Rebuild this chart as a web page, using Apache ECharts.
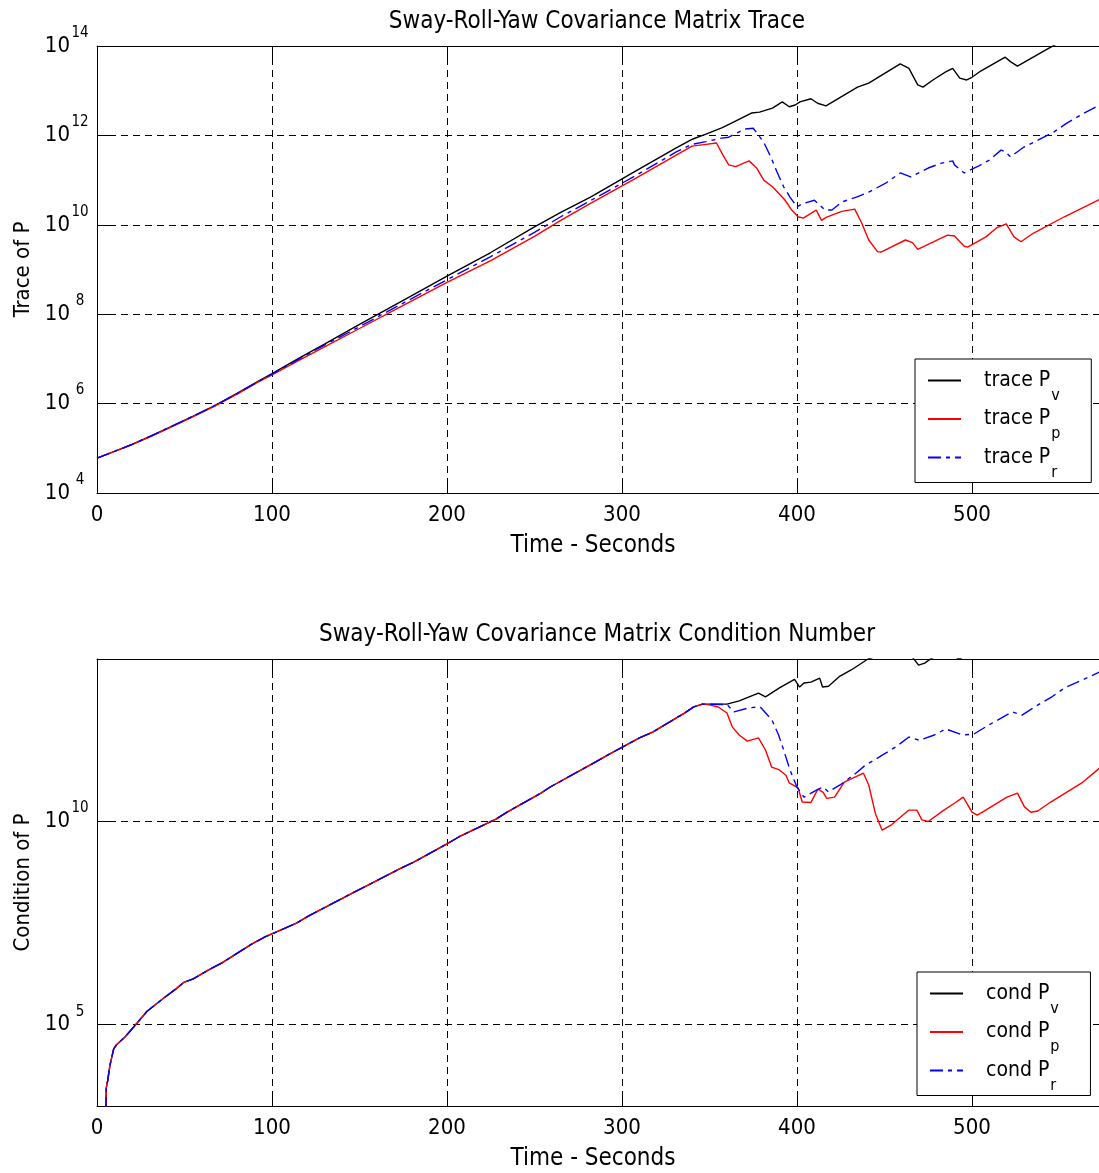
<!DOCTYPE html>
<html>
<head>
<meta charset="utf-8">
<title>Sway-Roll-Yaw Covariance Matrix</title>
<script src="https://cdn.jsdelivr.net/npm/echarts@6/dist/echarts.min.js"></script>
<style>
  html, body { margin: 0; padding: 0; background: #fff; }
  #chart { width: 1099px; height: 1173px; }
</style>
</head>
<body>
<div id="chart"></div>
<script>
// Each point is [time in seconds, log10 of the quantity].

// Trace of the sway-roll-yaw covariance matrices
const traceV = [[0,4.78],[10,4.93],[20,5.09],[30,5.26],[42,5.48],[55,5.72],[67,5.95],[80,6.23],[92,6.5],[100,6.67],[117,7.05],[130,7.33],[150,7.77],[175,8.31],[200,8.85],[225,9.38],[249,9.93],[265,10.28],[282,10.62],[306,11.16],[331,11.72],[340.5,11.92],[348,12.03],[357,12.17],[364,12.3],[374,12.5],[378.6,12.52],[386,12.61],[391.6,12.75],[395.6,12.64],[399,12.68],[401.7,12.75],[408,12.82],[411.8,12.72],[416.6,12.66],[434.6,13.08],[441,13.17],[459,13.6],[464,13.5],[469,13.13],[472,13.08],[477.7,13.24],[485,13.42],[489,13.5],[493,13.28],[497,13.24],[500,13.3],[505,13.44],[519,13.75],[522,13.65],[526,13.55],[543,13.93],[558,14.25],[573,14.55]];
const traceP = [[0,4.78],[10,4.93],[20,5.08],[30,5.25],[42,5.47],[55,5.71],[67,5.94],[80,6.21],[92,6.48],[100,6.64],[117,7.0],[130,7.27],[150,7.68],[175,8.2],[200,8.71],[225,9.2],[250,9.74],[265,10.1],[282,10.48],[306,11.0],[331,11.56],[340,11.76],[348,11.8],[354,11.83],[357.7,11.56],[361,11.34],[365,11.3],[372.6,11.43],[377,11.27],[381,11.0],[386,10.85],[393,10.56],[397,10.33],[400.6,10.18],[403.6,10.15],[411,10.33],[414,10.1],[417,10.17],[425.6,10.3],[433,10.35],[437,10.04],[441,9.66],[446,9.4],[448,9.39],[462,9.66],[466,9.6],[469,9.45],[486,9.77],[490,9.75],[495.6,9.52],[497.5,9.5],[508,9.73],[514,9.93],[519.6,10.02],[524,9.73],[528,9.62],[535,9.81],[552.8,10.18],[560.6,10.33],[573,10.57]];
const traceR = [[0,4.78],[10,4.93],[20,5.09],[30,5.26],[42,5.48],[55,5.72],[67,5.95],[80,6.22],[92,6.49],[100,6.66],[117,7.03],[130,7.31],[150,7.72],[175,8.25],[200,8.77],[225,9.29],[250,9.83],[265,10.18],[282,10.54],[306,11.06],[331,11.63],[340,11.8],[348,11.86],[357,11.94],[361,11.96],[370,12.14],[375,12.16],[381,11.85],[385,11.52],[388.6,11.18],[392.4,10.85],[396,10.62],[400,10.4],[403,10.47],[410,10.55],[416,10.33],[420,10.33],[425.6,10.51],[434,10.62],[441,10.73],[451,10.94],[459,11.16],[465,11.07],[475,11.27],[482.6,11.38],[489,11.43],[490,11.34],[495.6,11.16],[503.6,11.31],[510,11.45],[516.6,11.67],[519,11.64],[522,11.52],[529.7,11.74],[538,11.9],[546.9,12.08],[554,12.27],[564,12.5],[573,12.68]];

// Condition number: the three filters share the same rise up to about 346 s
const condRise = [[5.1,2.9],[5.3,3.45],[6,3.6],[7.4,4.0],[9.5,4.4],[11,4.5],[16,4.7],[21.7,4.98],[28.6,5.33],[38,5.65],[45.7,5.9],[49.5,6.04],[55,6.13],[63.8,6.35],[71.4,6.52],[88.6,6.99],[96,7.16],[114,7.5],[121,7.68],[149.5,8.32],[156,8.46],[174,8.86],[181,9.0],[200,9.45],[206.7,9.62],[228,10.06],[234.6,10.24],[253.7,10.7],[259,10.85],[285,11.47],[292,11.64],[310,12.06],[317.5,12.2],[335.7,12.67],[341,12.82],[346,12.89]];
const condVTail = [[360,12.89],[367,12.97],[378,13.16],[382,13.07],[390,13.29],[398.6,13.5],[401.5,13.31],[404,13.41],[408,13.43],[413,13.53],[414.6,13.31],[418,13.33],[424.6,13.58],[431,13.73],[440.6,14.0],[455,14.2],[465,14.1],[469.5,13.85],[473,13.9],[477,14.02],[485,14.15],[493,14.0],[500,14.2],[573,15.2]];
const condPTail = [[350,12.87],[355,12.82],[360,12.67],[363,12.33],[367,12.13],[371.6,11.98],[378,12.06],[382,11.76],[385.5,11.34],[390,11.27],[393.7,11.14],[395.6,10.95],[400.6,10.83],[403,10.48],[408,10.47],[412,10.8],[415,10.72],[417,10.57],[421.5,10.6],[427,10.97],[438,11.19],[441,10.9],[444.8,10.2],[448.6,9.79],[454,9.92],[463.8,10.28],[468.5,10.28],[471.4,10.04],[475,10.0],[484,10.28],[490,10.45],[495,10.6],[500,10.23],[503,10.16],[506,10.23],[520,10.6],[526,10.7],[530,10.36],[533.7,10.23],[537.6,10.26],[545,10.48],[562.8,10.95],[573,11.32]];
const condRTail = [[360,12.88],[364,12.7],[372.6,12.8],[379,12.82],[385.7,12.5],[389.5,12.13],[392.4,11.76],[396,11.27],[400,10.85],[404,10.6],[411.4,10.78],[415,10.85],[418,10.73],[424.6,10.9],[434,11.2],[438.6,11.37],[449,11.64],[456.6,11.84],[464,12.08],[470,12.0],[478.5,12.13],[485,12.28],[494.5,12.13],[501,12.15],[508.6,12.35],[523,12.7],[528.6,12.62],[537,12.85],[545.7,13.07],[553,13.29],[563,13.48],[573,13.68]];

// Axis ticks
const timeTicks = [0, 100, 200, 300, 400, 500];
const traceTicks = [1e4, 1e6, 1e8, 1e10, 1e12, 1e14];
const condTicks = [1e5, 1e10];

const traceNames = ['trace Pv', 'trace Pp', 'trace Pr'];
const condNames = ['cond Pv', 'cond Pp', 'cond Pr'];

const FONT = '"DejaVu Sans Condensed", "DejaVu Sans", "Liberation Sans", Arial, sans-serif';
const T_MIN = 0, T_MAX = 572.6;

const toPoints = arr => arr.map(([t, e]) => [t, Math.pow(10, e)]);

const gridDash = { color: '#000', width: 1, type: [7, 5] };

function timeAxis(gridIndex) {
  return {
    type: 'value', gridIndex, min: T_MIN, max: T_MAX, position: 'bottom',
    name: 'Time - Seconds', nameLocation: 'middle', nameGap: 41,
    nameTextStyle: { fontFamily: FONT, fontSize: 24, color: '#000', padding: [0, 10, 0, 0] },
    axisLine: { show: true, lineStyle: { color: '#000', width: 1 } },
    axisTick: { inside: true, length: 12, lineStyle: { color: '#000' }, customValues: timeTicks },
    axisLabel: { fontFamily: FONT, fontSize: 22, color: '#000', margin: 11, customValues: timeTicks },
    splitLine: { show: true, lineStyle: gridDash }
  };
}
function timeAxisTop(gridIndex) {
  return {
    type: 'value', gridIndex, min: T_MIN, max: T_MAX, position: 'top',
    axisLine: { show: true, lineStyle: { color: '#000', width: 1 } },
    axisTick: { inside: true, length: 12, lineStyle: { color: '#000' }, customValues: timeTicks },
    axisLabel: { show: false },
    splitLine: { show: false }
  };
}

const powerLabel = {
  fontFamily: FONT, color: '#000', margin: 8,
  formatter: v => '{b|10}{e|' + Math.round(Math.log10(v)) + '}',
  rich: {
    b: { fontFamily: FONT, fontSize: 22, color: '#000' },
    e: { fontFamily: FONT, fontSize: 15, color: '#000', width: 18, align: 'left', padding: [0, 0, 26, 1] }
  }
};

function logAxis(gridIndex, min, max, ticks, name) {
  return {
    type: 'log', logBase: 10, gridIndex, min, max,
    name, nameLocation: 'middle', nameGap: 59,
    nameTextStyle: { fontFamily: FONT, fontSize: 22, color: '#000' },
    axisLine: { show: true, lineStyle: { color: '#000', width: 1 } },
    axisTick: { inside: true, length: 12, lineStyle: { color: '#000' }, customValues: ticks },
    axisLabel: Object.assign({ customValues: ticks }, powerLabel),
    minorTick: { show: false },
    splitLine: { show: true, lineStyle: gridDash }
  };
}

const legendBase = {
  orient: 'vertical', itemWidth: 33, itemHeight: 14, itemGap: 5,
  padding: [11, 31, 2, 12],
  borderColor: '#000', borderWidth: 1, backgroundColor: '#fff',
  itemStyle: { color: 'rgba(0,0,0,0)', borderColor: 'rgba(0,0,0,0)', borderWidth: 0, opacity: 0 },
  formatter: name => '{m|' + name.slice(0, -1) + '}{s|' + name.slice(-1) + '}',
  textStyle: {
    fontFamily: FONT, fontSize: 21, color: '#000',
    rich: {
      m: { fontFamily: FONT, fontSize: 21, color: '#000', padding: [0, 0, 0, 18] },
      s: { fontFamily: FONT, fontSize: 16, color: '#000', padding: [30, 0, 0, 1] }
    }
  }
};

const styles = [
  { color: '#000000', type: 'solid' },
  { color: '#ff0000', type: 'solid' },
  { color: '#0000ff', type: [13, 5, 4, 5] }
];

function lineSeries(name, data, styleIdx, axisIdx) {
  const s = styles[styleIdx];
  return {
    type: 'line', name, xAxisIndex: axisIdx, yAxisIndex: axisIdx,
    data: toPoints(data), symbol: 'none', showSymbol: false,
    clip: true, z: 2 + styleIdx,
    color: s.color,
    lineStyle: { color: s.color, width: 1.4, type: s.type }
  };
}

const chart = echarts.init(document.getElementById('chart'), null, { renderer: 'canvas' });
chart.setOption({
  backgroundColor: '#fff',
  animation: false,
  title: [
    { text: 'Sway-Roll-Yaw Covariance Matrix Trace', left: 592, top: 5, textAlign: 'center',
      textStyle: { fontFamily: FONT, fontSize: 24, fontWeight: 'normal', color: '#000' } },
    { text: 'Sway-Roll-Yaw Covariance Matrix Condition Number', left: 592, top: 618, textAlign: 'center',
      textStyle: { fontFamily: FONT, fontSize: 24, fontWeight: 'normal', color: '#000' } }
  ],
  grid: [
    { left: 97, top: 46, width: 1002, height: 447, containLabel: false },
    { left: 97, top: 659, width: 1002, height: 447, containLabel: false }
  ],
  xAxis: [timeAxis(0), timeAxis(1), timeAxisTop(0), timeAxisTop(1)],
  yAxis: [
    logAxis(0, 1e4, 1e14, traceTicks, 'Trace of P'),
    logAxis(1, 1e3, 1e14, condTicks, 'Condition of P')
  ],
  legend: [
    Object.assign({ left: 915, top: 359, data: traceNames }, legendBase),
    Object.assign({ left: 917, top: 972, data: condNames }, legendBase)
  ],
  series: [
    lineSeries(traceNames[0], traceV, 0, 0),
    lineSeries(traceNames[1], traceP, 1, 0),
    lineSeries(traceNames[2], traceR, 2, 0),
    lineSeries(condNames[0], condRise.concat(condVTail), 0, 1),
    lineSeries(condNames[1], condRise.concat(condPTail), 1, 1),
    lineSeries(condNames[2], condRise.concat(condRTail), 2, 1)
  ]
});
</script>
</body>
</html>
